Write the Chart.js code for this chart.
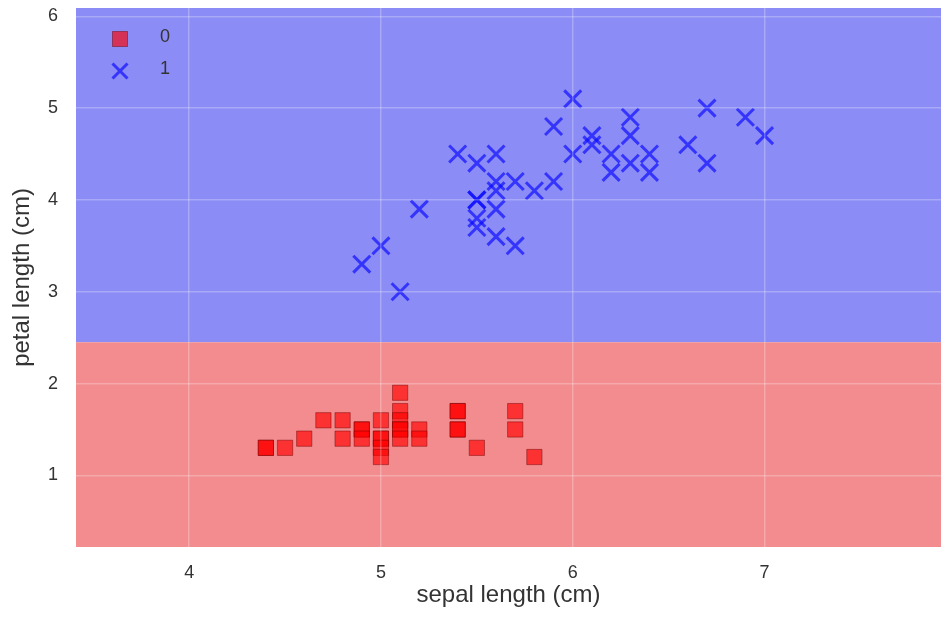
<!DOCTYPE html>
<html>
<head>
<meta charset="utf-8">
<script src="https://cdn.jsdelivr.net/npm/chart.js@4.4.1/dist/chart.umd.min.js"></script>
<style>
  html, body { margin: 0; padding: 0; background: #fff; overflow: hidden; }
  #wrap { position: relative; width: 941px; height: 620px; }
  canvas { display: block; }
</style>
</head>
<body>
<div id="wrap"><canvas id="regionChart"></canvas></div>
<script>
// class 0 (setosa) points
const sepal0 = [4.4, 4.4, 4.5, 4.6, 4.7, 4.8, 4.8, 4.9, 4.9, 4.9, 5.0, 5.0, 5.0, 5.0, 5.0, 5.1, 5.1, 5.1, 5.1, 5.1, 5.1, 5.2, 5.2, 5.4, 5.4, 5.4, 5.4, 5.5, 5.7, 5.7, 5.8];
const petal0 = [1.3, 1.3, 1.3, 1.4, 1.6, 1.6, 1.4, 1.5, 1.5, 1.4, 1.6, 1.4, 1.4, 1.3, 1.2, 1.9, 1.7, 1.6, 1.5, 1.5, 1.4, 1.5, 1.4, 1.7, 1.7, 1.5, 1.5, 1.3, 1.7, 1.5, 1.2];

// class 1 (versicolor) points
const sepal1 = [4.9, 5.0, 5.1, 5.2, 5.4, 5.5, 5.5, 5.5, 5.5, 5.5, 5.6, 5.6, 5.6, 5.6, 5.6, 5.7, 5.7, 5.8, 5.9, 5.9, 6.0, 6.0, 6.1, 6.1, 6.2, 6.2, 6.3, 6.3, 6.3, 6.4, 6.4, 6.6, 6.7, 6.7, 6.9, 7.0];
const petal1 = [3.3, 3.5, 3.0, 3.9, 4.5, 4.4, 4.0, 4.0, 3.8, 3.7, 4.5, 4.2, 4.1, 3.9, 3.6, 4.2, 3.5, 4.1, 4.8, 4.2, 5.1, 4.5, 4.7, 4.6, 4.5, 4.3, 4.9, 4.7, 4.4, 4.5, 4.3, 4.6, 5.0, 4.4, 4.9, 4.7];

// axis ranges, decision boundary, ticks
const xRange = [3.41, 7.92];
const yRange = [0.22, 6.09];
const boundary = 2.45;
const xTicks = [4, 5, 6, 7];
const yTicks = [1, 2, 3, 4, 5, 6];
const classLabels = ['0', '1'];

const FONT = 'Liberation Sans, Arial, sans-serif';
const toPoints = (xs, ys) => xs.map((x, i) => ({ x: x, y: ys[i] }));

// legend drawn inside the plot, top left, like matplotlib's loc='upper left'
const innerLegend = {
    id: 'innerLegend',
    afterDraw(chart) {
        const c = chart.ctx;
        const area = chart.chartArea;
        const ds = chart.data.datasets.slice(2);
        c.save();
        ds.forEach((d, i) => {
            const cx = area.left + 44;
            const cy = area.top + 31 + i * 32;
            if (d.pointStyle === 'rect') {
                c.fillStyle = d.backgroundColor;
                c.strokeStyle = d.borderColor;
                c.lineWidth = 1;
                c.fillRect(cx - 7.5, cy - 7.5, 15, 15);
                c.strokeRect(cx - 7.5, cy - 7.5, 15, 15);
            } else {
                c.strokeStyle = d.borderColor;
                c.lineWidth = 3;
                c.beginPath();
                c.moveTo(cx - 7.5, cy - 7.5); c.lineTo(cx + 7.5, cy + 7.5);
                c.moveTo(cx + 7.5, cy - 7.5); c.lineTo(cx - 7.5, cy + 7.5);
                c.stroke();
            }
            c.fillStyle = '#333';
            c.font = '18px ' + FONT;
            c.textBaseline = 'middle';
            c.textAlign = 'left';
            c.fillText(d.label, cx + 40, cy - 2);
        });
        c.restore();
    }
};

const ctx = document.getElementById('regionChart').getContext('2d');
new Chart(ctx, {
    type: 'scatter',
    data: {
        datasets: [
            {
                label: 'region0',
                data: [{ x: xRange[0], y: boundary }, { x: xRange[1], y: boundary }],
                showLine: true,
                fill: 'start',
                backgroundColor: '#f28c8f',
                borderWidth: 0,
                pointRadius: 0,
                order: 10
            },
            {
                label: 'region1',
                data: [{ x: xRange[0], y: yRange[1] }, { x: xRange[1], y: yRange[1] }],
                showLine: true,
                fill: '-1',
                backgroundColor: '#8b8cf5',
                borderWidth: 0,
                pointRadius: 0,
                order: 11
            },
            {
                label: classLabels[0],
                data: toPoints(sepal0, petal0),
                pointStyle: 'rect',
                pointRadius: 10.8,
                pointHoverRadius: 10.8,
                backgroundColor: 'rgba(255, 0, 0, 0.65)',
                borderColor: 'rgba(110, 0, 0, 0.45)',
                borderWidth: 1,
                order: 1
            },
            {
                label: classLabels[1],
                data: toPoints(sepal1, petal1),
                pointStyle: 'crossRot',
                pointRadius: 12,
                pointHoverRadius: 12,
                backgroundColor: 'rgba(10, 10, 255, 0.68)',
                borderColor: 'rgba(10, 10, 255, 0.68)',
                borderWidth: 3,
                order: 2
            }
        ]
    },
    options: {
        responsive: true,
        maintainAspectRatio: false,
        animation: false,
        layout: { autoPadding: false, padding: { top: 8, right: 0, left: 0, bottom: 0 } },
        plugins: {
            tooltip: { enabled: false },
            legend: { display: false }
        },
        scales: {
            x: {
                type: 'linear',
                min: xRange[0],
                max: xRange[1],
                afterBuildTicks: s => { s.ticks = xTicks.map(v => ({ value: v })); },
                afterFit: s => { s.height = 73; s.paddingLeft = 0; s.paddingRight = 0; },
                border: { display: false },
                grid: { color: 'rgba(255,255,255,0.25)', lineWidth: 1.5, drawTicks: false, z: 1 },
                ticks: {
                    padding: 15,
                    color: '#333',
                    font: { family: FONT, size: 18 }
                },
                title: {
                    display: true,
                    text: 'sepal length (cm)',
                    color: '#333',
                    padding: { top: 0, bottom: 10 },
                    font: { family: FONT, size: 24 }
                }
            },
            y: {
                type: 'linear',
                min: yRange[0],
                max: yRange[1],
                afterBuildTicks: s => { s.ticks = yTicks.map(v => ({ value: v })); },
                afterFit: s => { s.width = 76; s.paddingTop = 0; s.paddingBottom = 0; },
                border: { display: false },
                grid: { color: 'rgba(255,255,255,0.25)', lineWidth: 1.5, drawTicks: false, z: 1 },
                ticks: {
                    padding: 18,
                    color: '#333',
                    font: { family: FONT, size: 18 }
                },
                title: {
                    display: true,
                    text: 'petal length (cm)',
                    color: '#333',
                    padding: { top: 8, bottom: 0 },
                    font: { family: FONT, size: 24 }
                }
            }
        }
    },
    plugins: [innerLegend]
});
</script>
</body>
</html>
